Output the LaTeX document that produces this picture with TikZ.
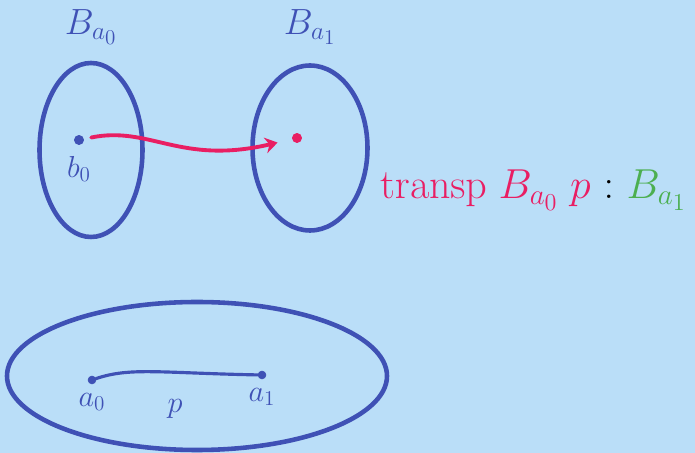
\documentclass[tikz,border=0pt]{standalone}
\usepackage{amsmath,amssymb}
\usetikzlibrary{positioning,shapes.geometric,arrows.meta}
\definecolor{sky}{RGB}{186,222,248}
\definecolor{pen}{RGB}{63,81,181}
\definecolor{rose}{RGB}{233,30,99}
\definecolor{leaf}{RGB}{76,175,80}
\tikzset{
  fibre/.style={
    shape = ellipse,
    draw = pen,
    line width = 2.6pt
  },
  pt/.style={
    inner sep = 0.065cm,
    shape = circle,
    draw,
    fill
  },
  every label/.style = {
    text = pen,
    font = \LARGE
  },
}
\tikzset{
  transp/.style={
    draw = rose,
    line width = 2.2pt,
    line cap = round,
    -{Stealth[length=7pt,width=9pt]}
  },
  path/.style={
    draw = pen,
    line width = 1.8pt,
    line cap = round
  },
}

\begin{document}
\begin{tikzpicture}
\useasboundingbox[fill=sky] (0,0) rectangle (13.9,9.06);
% fibres over a_0 and a_1
  \node[fibre, minimum width=2.06cm, minimum height=3.48cm,
        label={[label distance=0.2cm, font=\huge]above:$B_{a_0}$}] (Ba0) at (1.82,6.06) {};
  \node[fibre, minimum width=2.3cm, minimum height=3.3cm,
        label={[label distance=0.25cm, font=\huge]above:$B_{a_1}$}] (Ba1) at (6.2,6.1) {};
  \node[pt, pen, label={[label distance=0.1cm]below:$b_0$}] (b0) at (1.58,6.26) {};
  \node[pt, rose] (b1) at (5.94,6.3) {};
\draw[transp, shorten <=0.15cm, shorten >=0.3cm] (b0) .. controls (3.0,6.55) and (3.6,5.75) .. (b1);
  \node[anchor=west, font=\huge, scale=1.15, transform shape] (tr) at (7.46,5.26)
    {\color{rose}$\mathrm{\large transp}\;B_{a_0}\;p$ \color{black}$:$ \color{leaf}$B_{a_1}$};
% base space
  \node[fibre, minimum width=7.6cm, minimum height=2.96cm] (A) at (3.94,1.54) {};
  \foreach \n/\x/\y in {0/1.84/1.46, 1/5.24/1.56}{
    \node[pt, pen, inner sep=0.055cm, label={[label distance=0.05cm]below:$a_\n$}] (a\n) at (\x,\y) {}; }
\draw[path] (a0) .. controls (2.6,1.72) and (3.2,1.6) .. (a1)
    node[pos=0.64, below=0.4cm, text=pen, font=\LARGE] (p) {$p$};
\end{tikzpicture}
\end{document}
